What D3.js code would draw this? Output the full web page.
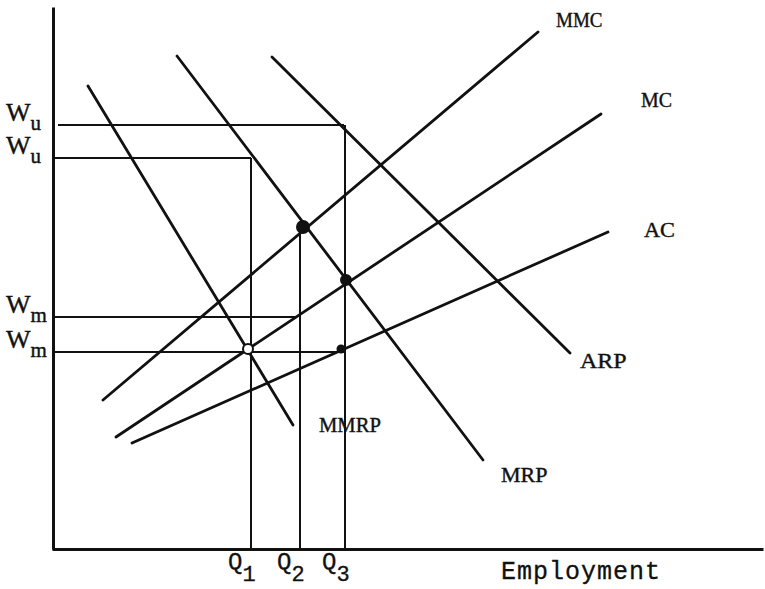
<!DOCTYPE html>
<html>
<head>
<meta charset="utf-8">
<script src="https://cdn.jsdelivr.net/npm/d3@7"></script>
<style>
  body { margin: 0; background: #fff; }
  svg { display: block; }
  .lbl { font-family: "Liberation Serif", serif; fill: #111; stroke: #111; stroke-width: 0.4; }
  .mono { font-family: "Liberation Mono", monospace; fill: #111; stroke: #111; stroke-width: 0.3; }
</style>
</head>
<body>
<svg width="765" height="589"></svg>
<script>
// values (employment units on x, wage units on y)
var curveNames = ["MMRP", "MRP", "ARP", "MMC", "MC", "AC"];
var curveStart = [[36, 463], [125, 493], [220, 492], [51, 149], [64, 112], [80, 106]];
var curveEnd   = [[241, 124], [431, 89], [518, 196], [486, 517], [549, 435], [556, 317]];

var wageSubs   = ["u", "u", "m", "m"];
var wageLevels = [424, 391, 232, 197];
var wageReach  = [292, 199, 245, 292];

var qSubs   = ["1", "2", "3"];
var qValues = [199, 248, 293];
var qTops   = [391, 322, 424];

var pointX    = [251, 294, 289, 196];
var pointY    = [322, 269, 200, 200];
var pointOpen = [false, false, false, true];

var xLabel = "Employment";

var svg = d3.select("svg");

var x = d3.scaleLinear().domain([0, 711]).range([52, 763]),
    y = d3.scaleLinear().domain([0, 542]).range([549, 7]);

// axes, no ticks
svg.append("g")
    .attr("transform", "translate(0," + y(0) + ")")
    .call(d3.axisBottom(x).tickValues([]).tickSizeOuter(0))
    .select(".domain").attr("stroke", "#111").attr("stroke-width", 3);

svg.append("g")
    .attr("transform", "translate(" + x(1) + ",0)")
    .call(d3.axisLeft(y).tickValues([]).tickSizeOuter(0))
    .select(".domain").attr("stroke", "#111").attr("stroke-width", 3);

// guide lines for wages and quantities
svg.selectAll(".wline")
  .data(wageLevels)
  .enter().append("line")
    .attr("class", "wline")
    .attr("x1", function(d, i) { return x(i == 0 ? 6 : 3); })
    .attr("x2", function(d, i) { return x(wageReach[i]); })
    .attr("y1", function(d) { return y(d); })
    .attr("y2", function(d) { return y(d); })
    .attr("stroke", "#111").attr("stroke-width", 2);

svg.selectAll(".qline")
  .data(qValues)
  .enter().append("line")
    .attr("class", "qline")
    .attr("x1", function(d) { return x(d); })
    .attr("x2", function(d) { return x(d); })
    .attr("y1", y(0))
    .attr("y2", function(d, i) { return y(qTops[i]); })
    .attr("stroke", "#111").attr("stroke-width", 2);

// the curves
svg.selectAll(".curve")
  .data(curveNames)
  .enter().append("line")
    .attr("class", "curve")
    .attr("x1", function(d, i) { return x(curveStart[i][0]); })
    .attr("y1", function(d, i) { return y(curveStart[i][1]); })
    .attr("x2", function(d, i) { return x(curveEnd[i][0]); })
    .attr("y2", function(d, i) { return y(curveEnd[i][1]); })
    .attr("stroke", "#111").attr("stroke-width", 2.8)
    .attr("stroke-linecap", "round");

// equilibrium points
var pointR = [6, 5, 3.5, 5];
svg.selectAll(".pt")
  .data(pointX)
  .enter().append("circle")
    .attr("class", "pt")
    .attr("cx", function(d) { return x(d); })
    .attr("cy", function(d, i) { return y(pointY[i]); })
    .attr("r", function(d, i) { return pointR[i]; })
    .attr("fill", function(d, i) { return pointOpen[i] ? "#fff" : "#111"; })
    .attr("stroke", "#111").attr("stroke-width", 2);

// curve labels
var labelPos = {
  MMRP: [319, 432], MRP: [501, 482], ARP: [580, 368],
  MMC: [556, 27], MC: [641, 107], AC: [644, 237]
};
svg.selectAll(".clabel")
  .data(curveNames)
  .enter().append("text")
    .attr("class", "lbl clabel")
    .attr("x", function(d) { return labelPos[d][0]; })
    .attr("y", function(d) { return labelPos[d][1]; })
    .attr("font-size", 22)
    .attr("textLength", function(d) { return d.length * 15.5; })
    .attr("lengthAdjust", "spacingAndGlyphs")
    .text(function(d) { return d; });

// wage labels with subscripts
var wl = svg.selectAll(".wlabel")
  .data(wageLevels)
  .enter().append("text")
    .attr("class", "lbl wlabel")
    .attr("x", 6)
    .attr("y", function(d) { return y(d) - 4; })
    .attr("font-size", 26);
wl.append("tspan").text("W");
wl.append("tspan")
    .attr("dy", 9)
    .attr("font-size", 21)
    .text(function(d, i) { return wageSubs[i]; });

// quantity labels with subscripts
var ql = svg.selectAll(".qlabel")
  .data(qValues)
  .enter().append("text")
    .attr("class", "mono qlabel")
    .attr("x", function(d) { return x(d) - 23; })
    .attr("y", 569)
    .attr("font-size", 24);
ql.append("tspan").text("Q");
ql.append("tspan")
    .attr("dy", 12)
    .attr("font-size", 22)
    .text(function(d, i) { return qSubs[i]; });

svg.append("text")
    .attr("class", "mono")
    .attr("x", 501)
    .attr("y", 579)
    .attr("font-size", 25)
    .attr("letter-spacing", 1)
    .text(xLabel);
</script>
</body>
</html>
